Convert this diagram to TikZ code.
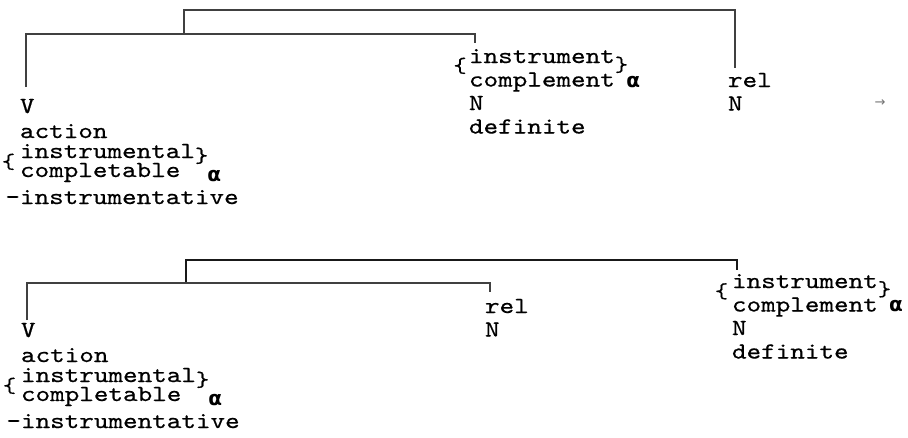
\documentclass[tikz,border=0pt]{standalone}
\usepackage{fontspec}
\setmonofont{lmmono10-regular}[Extension=.otf,FakeStretch=1.2075,FakeBold=0.6]
\newfontfamily\signfont{DejaVu Sans}
\newcommand{\bracefont}{\fontsize{21}{21}\selectfont}
\newcommand{\alphamark}{{\signfont\bfseries\fontsize{20}{20}\selectfont α}}

\begin{document}
\begin{tikzpicture}[
  x=1pt,y=-1pt,
  every node/.style={inner sep=0pt,outer sep=0pt},
  feat/.style={anchor=base west,align=left,font=\fontsize{23}{23.5}\selectfont\ttfamily},
  bar/.style={draw=black!75,line width=1.5pt,line join=miter},
  heavybar/.style={bar,draw=black!90,line width=2.2pt}
]
\useasboundingbox (0,0) rectangle (908,437);

\node[feat] (verbA) at (20,204) {V\\[1.5pt]
  action\\[-3.5pt]
  \raisebox{-10.25pt}[0pt][0pt]{\llap{\bracefont\{\hspace{4.85pt}}}instrumental\raisebox{-4.25pt}[0pt][0pt]{\bracefont\}}\\[-4.5pt]
  completable\hspace{27pt}\raisebox{-4pt}[0pt][0pt]{\alphamark}\\[3.5pt]
  \llap{-}instrumentative};
\node[feat] (instrA) at (469,133.5) {\raisebox{-9.25pt}[0pt][0pt]{\llap{\bracefont\{\hspace{2.35pt}}}instrument\raisebox{-8.25pt}[0pt][0pt]{\bracefont\}}\\
  complement\hspace{11.6pt}\raisebox{-1pt}[0pt][0pt]{\alphamark}\\
  N\\
  definite};
\node[feat] (relA) at (728,110.5) {rel\\N};
\node[font=\signfont\fontsize{13}{13}\selectfont,text=black!55] (arrow) at (880,103) {→};

\coordinate (topA) at (184,10);
\coordinate (midA) at (184,34);
\coordinate (verbAend) at (26,87);
\coordinate (instrAend) at (475,43);
\coordinate (relAend) at (735,68);
\draw[bar] (midA) -- (topA) -| (relAend);
\draw[bar] (verbAend) |- (midA) -| (instrAend);

\node[feat] (verbB) at (21,428) {V\\[1.5pt]
  action\\[-3.5pt]
  \raisebox{-10.25pt}[0pt][0pt]{\llap{\bracefont\{\hspace{4.85pt}}}instrumental\raisebox{-4.25pt}[0pt][0pt]{\bracefont\}}\\[-4.5pt]
  completable\hspace{27pt}\raisebox{-4pt}[0pt][0pt]{\alphamark}\\[3.5pt]
  \llap{-}instrumentative};
\node[feat] (relB) at (485,336.5) {rel\\N};
\node[feat] (instrB) at (732,358.5) {\raisebox{-9.75pt}[0pt][0pt]{\llap{\bracefont\{\hspace{3.85pt}}}instrument\raisebox{-7.75pt}[0pt][0pt]{\bracefont\}}\\
  complement\hspace{11.4pt}\raisebox{0pt}[0pt][0pt]{\alphamark}\\
  N\\
  definite};

\coordinate (topB) at (186,260);
\coordinate (midB) at (186,283);
\coordinate (verbBend) at (27,320);
\coordinate (relBend) at (490,292);
\coordinate (instrBend) at (737,270);
\draw[heavybar] (midB) -- (topB) -| (instrBend);
\draw[bar] (verbBend) |- (midB) -| (relBend);
\end{tikzpicture}
\end{document}
